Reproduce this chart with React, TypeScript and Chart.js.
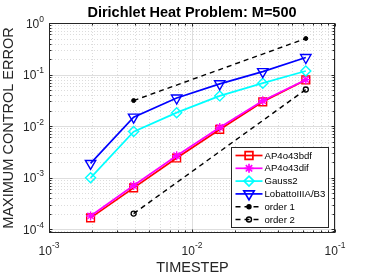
import React, { useEffect, useRef } from 'react';
import { Chart, registerables } from 'chart.js';
import { drawPoint } from 'chart.js/helpers';

Chart.register(...registerables);

// ---------- data ----------
const timesteps = [0.001953125, 0.00390625, 0.0078125, 0.015625, 0.03125, 0.0625];
const ap4o43bdf = [1.65e-4, 6.3e-4, 2.4e-3, 8.6e-3, 0.0295, 0.0785];
const ap4o43dif = [1.8e-4, 7.0e-4, 2.65e-3, 9.4e-3, 0.031, 0.0795];
const gauss2 = [9.9e-4, 7.8e-3, 0.0182, 0.0385, 0.068, 0.117];
const lobatto = [1.88e-3, 0.0149, 0.035, 0.066, 0.114, 0.214];
const refSteps = [0.00390625, 0.0625];
const order1 = [0.03125, 0.5];
const order2 = [2.0e-4, 0.0512];
const seriesNames = ['AP4o43bdf', 'AP4o43dif', 'Gauss2', 'LobattoIIIA/B3', 'order 1', 'order 2'];
const xTickExponents = [-3, -2, -1];
const yTickExponents = [0, -1, -2, -3, -4];
const chartTitle = 'Dirichlet Heat Problem: M=500';
const xLabel = 'TIMESTEP';
const yLabel = 'MAXIMUM CONTROL ERROR';
const xRange = [1e-3, 1e-1];
const yRange = [8.4e-5, 1];

const FONT = '"Liberation Sans", Arial, Helvetica, sans-serif';
const AXIS_COLOR = '#262626';

function pts(xs: number[], ys: number[]) {
  return xs.map((x, i) => ({ x, y: ys[i] }));
}

const decorPlugin = {
  id: 'matlabDecor',
  beforeDatasetsDraw(chart: any) {
    const { ctx, chartArea: a } = chart;
    const xs = chart.scales.x;
    const ys = chart.scales.y;
    ctx.save();
    ctx.lineWidth = 1;
    // minor grid (dotted)
    ctx.strokeStyle = '#dcdcdc';
    ctx.setLineDash([1, 2]);
    for (let e = -4; e <= 0; e++) {
      for (let m = 2; m <= 9; m++) {
        const v = m * Math.pow(10, e);
        if (v > xRange[0] && v < xRange[1]) {
          const p = Math.round(xs.getPixelForValue(v)) + 0.5;
          ctx.beginPath(); ctx.moveTo(p, a.top); ctx.lineTo(p, a.bottom); ctx.stroke();
        }
      }
    }
    for (let e = -5; e <= 0; e++) {
      for (let m = 2; m <= 9; m++) {
        const v = m * Math.pow(10, e);
        if (v > yRange[0] && v < yRange[1]) {
          const p = Math.round(ys.getPixelForValue(v)) + 0.5;
          ctx.beginPath(); ctx.moveTo(a.left, p); ctx.lineTo(a.right, p); ctx.stroke();
        }
      }
    }
    // major grid (solid)
    ctx.setLineDash([]);
    ctx.strokeStyle = '#dedede';
    xTickExponents.forEach((e) => {
      const p = Math.round(xs.getPixelForValue(Math.pow(10, e))) + 0.5;
      ctx.beginPath(); ctx.moveTo(p, a.top); ctx.lineTo(p, a.bottom); ctx.stroke();
    });
    yTickExponents.forEach((e) => {
      const p = Math.round(ys.getPixelForValue(Math.pow(10, e))) + 0.5;
      ctx.beginPath(); ctx.moveTo(a.left, p); ctx.lineTo(a.right, p); ctx.stroke();
    });
    ctx.restore();
  },
  afterDatasetsDraw(chart: any) {
    const { ctx, chartArea: a } = chart;
    const xs = chart.scales.x;
    const ys = chart.scales.y;
    ctx.save();
    // box
    ctx.strokeStyle = AXIS_COLOR;
    ctx.lineWidth = 1;
    const L = Math.round(a.left) + 0.5, R = Math.round(a.right) - 0.5;
    const T = Math.round(a.top) + 0.5, B = Math.round(a.bottom) - 0.5;
    ctx.strokeRect(L, T, R - L, B - T);
    // ticks
    const tick = (isX: boolean, v: number, len: number) => {
      if (isX) {
        const p = Math.round(xs.getPixelForValue(v)) + 0.5;
        ctx.beginPath();
        ctx.moveTo(p, B); ctx.lineTo(p, B - len);
        ctx.moveTo(p, T); ctx.lineTo(p, T + len);
        ctx.stroke();
      } else {
        const p = Math.round(ys.getPixelForValue(v)) + 0.5;
        ctx.beginPath();
        ctx.moveTo(L, p); ctx.lineTo(L + len, p);
        ctx.moveTo(R, p); ctx.lineTo(R - len, p);
        ctx.stroke();
      }
    };
    for (let e = -4; e <= 0; e++) {
      for (let m = 2; m <= 9; m++) {
        const v = m * Math.pow(10, e);
        if (v > xRange[0] && v < xRange[1]) tick(true, v, 2);
      }
    }
    for (let e = -5; e <= 0; e++) {
      for (let m = 2; m <= 9; m++) {
        const v = m * Math.pow(10, e);
        if (v > yRange[0] && v < yRange[1]) tick(false, v, 2);
      }
    }
    xTickExponents.forEach((e) => tick(true, Math.pow(10, e), 3));
    yTickExponents.forEach((e) => tick(false, Math.pow(10, e), 3));

    // tick labels
    ctx.fillStyle = AXIS_COLOR;
    const baseFont = `12px ${FONT}`;
    const supFont = `8.5px ${FONT}`;
    ctx.textBaseline = 'alphabetic';
    ctx.textAlign = 'left';
    xTickExponents.forEach((e) => {
      const p = xs.getPixelForValue(Math.pow(10, e));
      ctx.font = baseFont; const wb = ctx.measureText('10').width;
      ctx.font = supFont; const ws = ctx.measureText(String(e)).width;
      const start = p - (wb + ws) / 2;
      ctx.font = baseFont; ctx.fillText('10', start, a.bottom + 21.5);
      ctx.font = supFont; ctx.fillText(String(e), start + wb, a.bottom + 14.5);
    });
    yTickExponents.forEach((e) => {
      const p = ys.getPixelForValue(Math.pow(10, e));
      ctx.font = baseFont; const wb = ctx.measureText('10').width;
      ctx.font = supFont; const ws = ctx.measureText(String(e)).width;
      const right = a.left - 5;
      const start = right - wb - ws;
      ctx.font = baseFont; ctx.fillText('10', start, p + 4.5);
      ctx.font = supFont; ctx.fillText(String(e), start + wb, p - 1.2);
    });

    // title and axis labels
    const cx = (a.left + a.right) / 2;
    ctx.fillStyle = '#000000';
    ctx.font = `bold 14.5px ${FONT}`;
    ctx.textAlign = 'center';
    ctx.fillText(chartTitle, cx, 16.7);
    ctx.fillStyle = AXIS_COLOR;
    ctx.font = `14.5px ${FONT}`;
    ctx.fillText(xLabel, cx + 0.5, 272);
    ctx.save();
    ctx.translate(12.5, (a.top + a.bottom) / 2);
    ctx.rotate(-Math.PI / 2);
    ctx.fillText(yLabel, 0, 0);
    ctx.restore();

    // legend
    const lw = 97, lh = 80;
    const lx = Math.round(a.right - 7 - lw) + 0.5;
    const ly = Math.round(a.bottom - 6 - lh) + 0.5;
    ctx.fillStyle = '#ffffff';
    ctx.fillRect(lx, ly, lw, lh);
    ctx.strokeStyle = AXIS_COLOR;
    ctx.lineWidth = 1;
    ctx.strokeRect(lx, ly, lw, lh);
    ctx.font = `9.6px ${FONT}`;
    ctx.textAlign = 'left';
    ctx.textBaseline = 'middle';
    chart.data.datasets.forEach((ds: any, i: number) => {
      const y = ly + 8 + i * 12.8;
      const x0 = lx + 4, x1 = lx + 31;
      ctx.save();
      ctx.strokeStyle = ds.borderColor;
      ctx.lineWidth = ds.borderWidth;
      ctx.setLineDash(ds.borderDash || []);
      ctx.beginPath(); ctx.moveTo(x0, y); ctx.lineTo(x1, y); ctx.stroke();
      ctx.setLineDash([]);
      ctx.strokeStyle = ds.pointBorderColor || ds.borderColor;
      ctx.fillStyle = ds.pointBackgroundColor;
      drawPoint(ctx, {
        pointStyle: ds.pointStyle,
        rotation: ds.pointRotation || 0,
        radius: ds.pointRadius,
        borderWidth: ds.pointBorderWidth,
      }, (x0 + x1) / 2, y);
      ctx.restore();
      ctx.fillStyle = '#000000';
      ctx.fillText(seriesNames[i], lx + 33, y + 0.5);
    });
    ctx.restore();
  },
};

export default function App() {
  const ref = useRef<HTMLCanvasElement | null>(null);
  useEffect(() => {
    if (!ref.current) return;
    const hollow = 'rgba(0,0,0,0)';
    const chart = new Chart(ref.current, {
      type: 'scatter',
      data: {
        datasets: [
          {
            label: seriesNames[0], data: pts(timesteps, ap4o43bdf), showLine: true, order: 6,
            borderColor: '#ff0000', borderWidth: 1.7, pointStyle: 'rect', pointRadius: 5.5,
            pointBorderWidth: 1.4, pointBackgroundColor: hollow, pointBorderColor: '#ff0000',
          },
          {
            label: seriesNames[1], data: pts(timesteps, ap4o43dif), showLine: true, order: 5,
            borderColor: '#ff00ff', borderWidth: 1.7, pointStyle: 'star', pointRadius: 4.5,
            pointBorderWidth: 1.4, pointBackgroundColor: hollow, pointBorderColor: '#ff00ff',
          },
          {
            label: seriesNames[2], data: pts(timesteps, gauss2), showLine: true, order: 4,
            borderColor: '#00ffff', borderWidth: 1.7, pointStyle: 'rectRot', pointRadius: 5,
            pointBorderWidth: 1.4, pointBackgroundColor: hollow, pointBorderColor: '#00ffff',
          },
          {
            label: seriesNames[3], data: pts(timesteps, lobatto), showLine: true, order: 3,
            borderColor: '#0000ff', borderWidth: 1.7, pointStyle: 'triangle', pointRotation: 180,
            pointRadius: 6, pointBorderWidth: 1.4, pointBackgroundColor: hollow, pointBorderColor: '#0000ff',
          },
          {
            label: seriesNames[4], data: pts(refSteps, order1), showLine: true, order: 2,
            borderColor: '#000000', borderWidth: 1.4, borderDash: [5, 4], pointStyle: 'circle',
            pointRadius: 2, pointBorderWidth: 1, pointBackgroundColor: '#000000', pointBorderColor: '#000000',
          },
          {
            label: seriesNames[5], data: pts(refSteps, order2), showLine: true, order: 1,
            borderColor: '#000000', borderWidth: 1.4, borderDash: [5, 4], pointStyle: 'circle',
            pointRadius: 2.5, pointBorderWidth: 1.3, pointBackgroundColor: hollow, pointBorderColor: '#000000',
          },
        ] as any,
      },
      options: {
        animation: false,
        responsive: false,
        maintainAspectRatio: false,
        devicePixelRatio: 1,
        layout: { padding: { left: 49, top: 23, right: 36, bottom: 45 } },
        plugins: { legend: { display: false }, title: { display: false }, tooltip: { enabled: false } },
        scales: {
          x: { type: 'logarithmic', min: xRange[0], max: xRange[1], display: false },
          y: { type: 'logarithmic', min: yRange[0], max: yRange[1], display: false },
        },
        elements: { line: { tension: 0 } },
      },
      plugins: [decorPlugin],
    } as any);
    return () => chart.destroy();
  }, []);
  return (
    <div style={{ position: 'fixed', left: 0, top: 0, width: 371, height: 278, background: '#ffffff' }}>
      <canvas ref={ref} width={371} height={278} style={{ display: 'block', width: 371, height: 278 }} />
    </div>
  );
}
